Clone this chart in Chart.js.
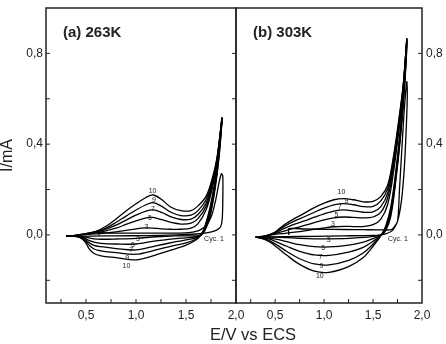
<!DOCTYPE html>
<html>
<head>
<meta charset="utf-8">
<script src="https://cdn.jsdelivr.net/npm/chart.js@4.4.0/dist/chart.umd.min.js"></script>
<style>
  body { margin: 0; background: #fff; }
  #wrap { position: relative; width: 446px; height: 344px; overflow: hidden; font-family: 'Liberation Sans', Arial, sans-serif; }
  #left { position: absolute; left: 0; top: 0; }
  #right { position: absolute; left: 230px; top: 0; }
  #xtitle { position: absolute; left: 153px; width: 200px; top: 325px; font-size: 16.5px; line-height: 18px; text-align: center; color: #222; }
</style>
</head>
<body>
<div id="wrap">
  <canvas id="left" width="246" height="344"></canvas>
  <canvas id="right" width="216" height="344"></canvas>
  <div id="xtitle">E/V vs ECS</div>
</div>
<script>
// axis ticks
const xMajor = [0.5, 1.0, 1.5, 2.0];
const xMinor = [0.25, 0.75, 1.25, 1.75];
const yMajor = [0.0, 0.4, 0.8];
const yMinor = [-0.2, 0.2, 0.6];
const cycles = ['3', '5', '7', '9', '10'];

// (a) 263 K  -- anodic sweep, cycles 3,5,7,9,10
const anodicE263 = [0.30, 0.40, 0.45, 0.50, 0.60, 0.70, 0.80, 0.90, 1.00, 1.10, 1.17, 1.25, 1.35, 1.45, 1.55, 1.62, 1.70, 1.76, 1.81, 1.86];
const anodic263 = [
  [-0.005, -0.003, 0.0, 0.002, 0.005, 0.008, 0.013, 0.02, 0.027, 0.031, 0.03, 0.027, 0.025, 0.025, 0.03, 0.05, 0.11, 0.2, 0.315, 0.51],
  [-0.005, -0.002, 0.001, 0.003, 0.009, 0.018, 0.03, 0.046, 0.062, 0.075, 0.077, 0.068, 0.055, 0.048, 0.052, 0.072, 0.125, 0.215, 0.325, 0.515],
  [-0.005, -0.002, 0.001, 0.004, 0.012, 0.025, 0.043, 0.065, 0.087, 0.105, 0.11, 0.1, 0.08, 0.068, 0.07, 0.09, 0.14, 0.225, 0.33, 0.515],
  [-0.005, -0.002, 0.002, 0.005, 0.014, 0.03, 0.055, 0.083, 0.11, 0.133, 0.142, 0.128, 0.1, 0.085, 0.087, 0.107, 0.155, 0.235, 0.335, 0.515],
  [-0.005, -0.002, 0.002, 0.006, 0.016, 0.038, 0.07, 0.105, 0.137, 0.165, 0.176, 0.158, 0.122, 0.107, 0.107, 0.128, 0.17, 0.245, 0.34, 0.515]
];
// (a) 263 K  -- cathodic sweep
const cathodicE263 = [1.86, 1.83, 1.79, 1.74, 1.69, 1.65, 1.60, 1.50, 1.40, 1.20, 1.00, 0.80, 0.65, 0.58, 0.53, 0.49, 0.44, 0.37, 0.30];
const cathodic263 = [
  [0.51, 0.34, 0.2, 0.08, 0.02, 0.0, -0.004, -0.004, -0.004, -0.008, -0.015, -0.018, -0.019, -0.017, -0.013, -0.009, -0.006, -0.005, -0.005],
  [0.515, 0.35, 0.21, 0.09, 0.025, 0.0, -0.008, -0.013, -0.016, -0.026, -0.04, -0.04, -0.037, -0.032, -0.024, -0.014, -0.007, -0.005, -0.005],
  [0.515, 0.36, 0.22, 0.1, 0.03, 0.0, -0.013, -0.022, -0.03, -0.048, -0.066, -0.06, -0.052, -0.046, -0.034, -0.019, -0.009, -0.005, -0.005],
  [0.515, 0.37, 0.23, 0.11, 0.035, 0.0, -0.018, -0.035, -0.045, -0.066, -0.085, -0.078, -0.07, -0.062, -0.045, -0.025, -0.01, -0.006, -0.005],
  [0.515, 0.38, 0.24, 0.12, 0.04, 0.0, -0.022, -0.045, -0.06, -0.088, -0.11, -0.1, -0.092, -0.082, -0.06, -0.03, -0.012, -0.006, -0.005]
];
// (a) 263 K  -- first cycle, starts at rest potential
const cyc1AnodicE263 = [0.63, 0.63, 0.75, 1.00, 1.25, 1.50, 1.62, 1.70, 1.76, 1.80, 1.83, 1.855];
const cyc1Anodic263 = [0.0, 0.01, 0.008, 0.008, 0.008, 0.009, 0.018, 0.04, 0.09, 0.16, 0.23, 0.27];
const cyc1CathodicE263 = [1.868, 1.868, 1.862, 1.845, 1.80, 1.72, 1.60, 1.40, 1.10, 0.80, 0.55, 0.30];
const cyc1Cathodic263 = [0.26, 0.15, 0.07, 0.035, 0.02, 0.01, 0.004, 0.0, -0.003, -0.004, -0.005, -0.005];

// (b) 303 K  -- anodic sweep
const anodicE303 = [0.30, 0.40, 0.45, 0.50, 0.55, 0.60, 0.70, 0.80, 0.90, 1.00, 1.10, 1.20, 1.30, 1.40, 1.50, 1.58, 1.65, 1.71, 1.77, 1.81, 1.845];
const anodic303 = [
  [-0.01, -0.007, -0.002, 0.003, 0.005, 0.007, 0.012, 0.018, 0.025, 0.031, 0.036, 0.038, 0.037, 0.037, 0.045, 0.07, 0.135, 0.28, 0.48, 0.645, 0.855],
  [-0.01, -0.006, 0.0, 0.006, 0.012, 0.018, 0.03, 0.042, 0.054, 0.066, 0.075, 0.079, 0.077, 0.075, 0.079, 0.1, 0.165, 0.305, 0.5, 0.655, 0.86],
  [-0.01, -0.005, 0.001, 0.009, 0.02, 0.03, 0.048, 0.062, 0.078, 0.093, 0.105, 0.11, 0.106, 0.1, 0.102, 0.125, 0.185, 0.325, 0.51, 0.66, 0.86],
  [-0.01, -0.004, 0.002, 0.011, 0.026, 0.04, 0.062, 0.08, 0.1, 0.118, 0.132, 0.138, 0.133, 0.125, 0.126, 0.15, 0.205, 0.34, 0.52, 0.665, 0.865],
  [-0.01, -0.004, 0.003, 0.013, 0.03, 0.047, 0.073, 0.096, 0.12, 0.14, 0.155, 0.16, 0.155, 0.146, 0.148, 0.17, 0.22, 0.35, 0.53, 0.67, 0.865]
];
// (b) 303 K  -- cathodic sweep
const cathodicE303 = [1.845, 1.82, 1.78, 1.73, 1.68, 1.63, 1.585, 1.50, 1.40, 1.25, 1.05, 0.90, 0.75, 0.62, 0.52, 0.44, 0.36, 0.30];
const cathodic303 = [
  [0.855, 0.64, 0.43, 0.23, 0.08, 0.02, 0.0, -0.006, -0.011, -0.015, -0.017, -0.017, -0.015, -0.012, -0.01, -0.01, -0.01, -0.01],
  [0.86, 0.65, 0.44, 0.24, 0.09, 0.025, 0.0, -0.016, -0.032, -0.045, -0.053, -0.052, -0.043, -0.03, -0.02, -0.014, -0.011, -0.01],
  [0.86, 0.66, 0.45, 0.25, 0.1, 0.03, 0.0, -0.028, -0.055, -0.076, -0.09, -0.088, -0.072, -0.05, -0.032, -0.019, -0.012, -0.01],
  [0.865, 0.67, 0.46, 0.26, 0.11, 0.035, 0.0, -0.04, -0.08, -0.112, -0.132, -0.128, -0.105, -0.073, -0.045, -0.025, -0.013, -0.01],
  [0.865, 0.68, 0.47, 0.27, 0.12, 0.04, 0.0, -0.05, -0.1, -0.14, -0.165, -0.16, -0.13, -0.09, -0.055, -0.03, -0.015, -0.01]
];
// (b) 303 K  -- first cycle
const cyc1AnodicE303 = [0.64, 0.64, 0.80, 1.00, 1.20, 1.40, 1.60, 1.69, 1.75, 1.77, 1.80, 1.82, 1.845];
const cyc1Anodic303 = [0.0, 0.028, 0.026, 0.025, 0.024, 0.023, 0.022, 0.024, 0.06, 0.2, 0.42, 0.56, 0.675];
const cyc1CathodicE303 = [1.85, 1.84, 1.82, 1.79, 1.75, 1.70, 1.62, 1.50, 1.20, 0.90, 0.60, 0.30];
const cyc1Cathodic303 = [0.62, 0.48, 0.3, 0.15, 0.06, 0.02, 0.004, -0.002, -0.004, -0.006, -0.008, -0.01];

// curve annotations [text, E, I]
const labels263 = [
  ['10', 1.166, 0.195], ['9', 1.18, 0.154], ['7', 1.17, 0.113], ['5', 1.14, 0.073], ['3', 1.105, 0.035],
  ['3', 1.02, -0.019], ['5', 0.97, -0.044], ['7', 0.953, -0.066], ['9', 0.912, -0.1], ['10', 0.905, -0.139],
  ['Cyc. 1', 1.78, -0.019]
];
const labels303 = [
  ['10', 1.177, 0.19], ['9', 1.228, 0.15], ['7', 1.16, 0.122], ['5', 1.126, 0.088], ['3', 1.09, 0.048],
  ['3', 1.047, -0.022], ['5', 0.99, -0.059], ['7', 0.963, -0.098], ['9', 0.973, -0.136], ['10', 0.956, -0.183],
  ['Cyc. 1', 1.754, -0.019]
];

const FONT = "'Liberation Sans', Arial, sans-serif";
const fmt = v => v.toFixed(1).replace('.', ',');

function loop(aE, aI, cE, cI, skipVertex) {
  const pts = aE.map((e, k) => ({ x: e, y: aI[k] }));
  cE.forEach((e, k) => { if (!(skipVertex && k === 0)) pts.push({ x: e, y: cI[k] }); });
  return pts;
}

function buildSets(aE, aArr, cE, cArr, c1aE, c1a, c1cE, c1c) {
  const sets = cycles.map((name, k) => ({
    label: 'Cyc. ' + name,
    data: loop(aE, aArr[k], cE, cArr[k], true),
    showLine: true, borderColor: '#000', borderWidth: 1.3, pointRadius: 0, tension: 0.35, fill: false
  }));
  sets.push({
    label: 'Cyc. 1',
    data: loop(c1aE, c1a, c1cE, c1c, false),
    showLine: true, borderColor: '#000', borderWidth: 1.3, pointRadius: 0, tension: 0.2, fill: false
  });
  return sets;
}

const framePlugin = {
  id: 'frame',
  afterDatasetsDraw(chart, args, opts) {
    const { ctx, chartArea: a, scales: { x, y } } = chart;
    ctx.save();
    ctx.strokeStyle = '#222';
    ctx.lineWidth = 1.5;
    ctx.strokeRect(a.left, a.top, a.right - a.left, a.bottom - a.top);
    ctx.lineWidth = 1;
    ctx.beginPath();
    xMajor.concat(xMinor).forEach(v => {
      const px = x.getPixelForValue(v);
      if (px > a.left + 1 && px < a.right - 1) { ctx.moveTo(px, a.bottom); ctx.lineTo(px, a.bottom - 4); }
    });
    yMajor.concat(yMinor).forEach(v => {
      const py = y.getPixelForValue(v);
      opts.sides.forEach(side => {
        if (side === 'left') { ctx.moveTo(a.left, py); ctx.lineTo(a.left + 4, py); }
        else { ctx.moveTo(a.right, py); ctx.lineTo(a.right - 4, py); }
      });
    });
    ctx.stroke();

    ctx.fillStyle = '#222';
    ctx.font = '7px ' + FONT;
    ctx.textAlign = 'center';
    ctx.textBaseline = 'middle';
    opts.labels.forEach(([t, e, i]) => ctx.fillText(t, x.getPixelForValue(e), y.getPixelForValue(i)));

    ctx.font = 'bold 15px ' + FONT;
    ctx.textAlign = 'left';
    ctx.fillText(opts.title, a.left + 17, a.top + 25);
    ctx.restore();
  }
};

function makeOptions(side, frame) {
  return {
    responsive: false,
    animation: false,
    layout: { padding: side === 'left' ? { top: 8, left: 0, right: 10, bottom: 0 } : { top: 8, left: 6, right: 0, bottom: 0 } },
    plugins: { legend: { display: false }, tooltip: { enabled: false }, frame: frame },
    scales: {
      x: {
        type: 'linear', min: 0.1, max: 2.0, position: 'bottom',
        afterBuildTicks: s => { s.ticks = xMajor.map(v => ({ value: v })); },
        afterFit: s => { s.height = 41; s.paddingLeft = 0; s.paddingRight = 0; },
        ticks: { callback: v => fmt(v), font: { size: 12, family: FONT }, color: '#222', padding: 5, maxRotation: 0, autoSkip: false },
        grid: { display: false, drawTicks: false },
        border: { display: false }
      },
      y: {
        type: 'linear', min: -0.3, max: 1.0, position: side,
        afterBuildTicks: s => { s.ticks = yMajor.map(v => ({ value: v })); },
        afterFit: s => { s.width = side === 'left' ? 46 : 24; s.paddingTop = 0; s.paddingBottom = 0; },
        ticks: { callback: v => fmt(v), font: { size: 12, family: FONT }, color: '#222', padding: side === 'left' ? 3 : 4 },
        grid: { display: false, drawTicks: false },
        border: { display: false },
        title: side === 'left'
          ? { display: true, text: 'I/mA', font: { size: 16, family: FONT, lineHeight: 1 }, color: '#222', padding: 0 }
          : { display: false }
      }
    }
  };
}

new Chart(document.getElementById('left').getContext('2d'), {
  type: 'scatter',
  data: { datasets: buildSets(anodicE263, anodic263, cathodicE263, cathodic263, cyc1AnodicE263, cyc1Anodic263, cyc1CathodicE263, cyc1Cathodic263) },
  options: makeOptions('left', { sides: ['left', 'right'], labels: labels263, title: '(a) 263K' }),
  plugins: [framePlugin]
});

new Chart(document.getElementById('right').getContext('2d'), {
  type: 'scatter',
  data: { datasets: buildSets(anodicE303, anodic303, cathodicE303, cathodic303, cyc1AnodicE303, cyc1Anodic303, cyc1CathodicE303, cyc1Cathodic303) },
  options: makeOptions('right', { sides: ['right'], labels: labels303, title: '(b) 303K' }),
  plugins: [framePlugin]
});
</script>
</body>
</html>
